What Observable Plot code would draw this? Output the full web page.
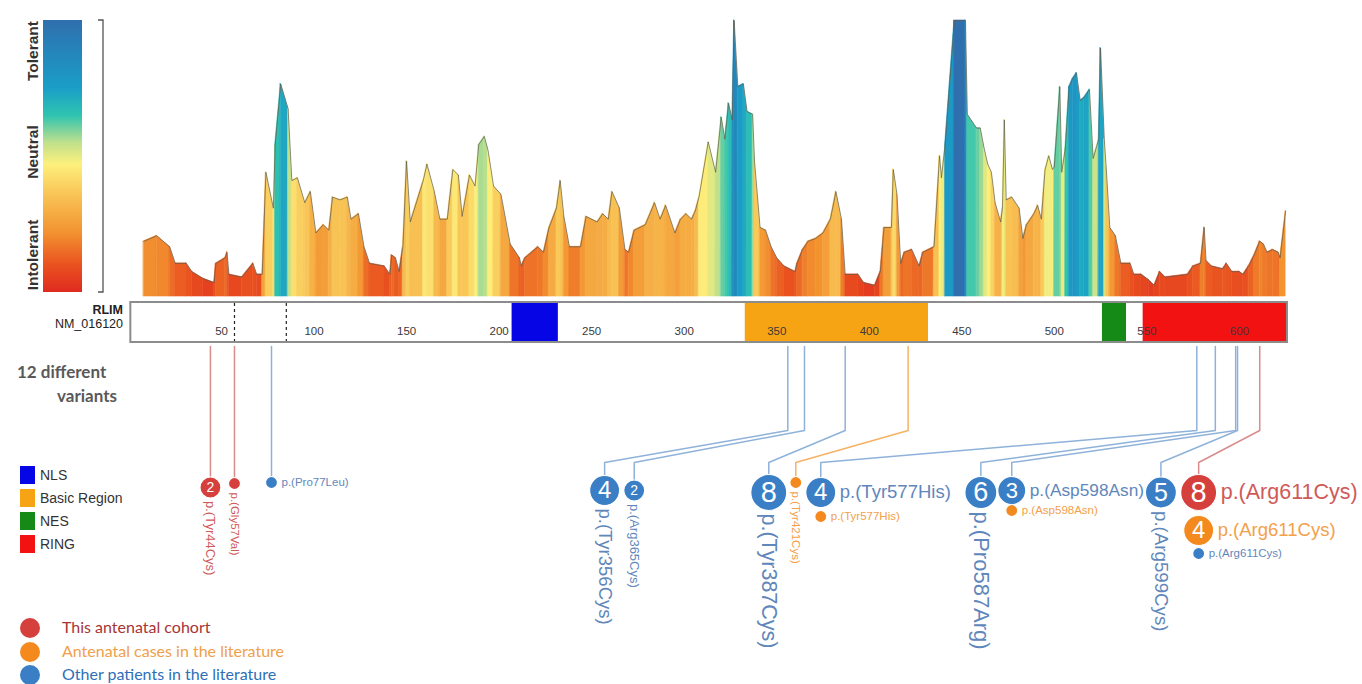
<!DOCTYPE html>
<html><head><meta charset="utf-8">
<script src="https://cdn.jsdelivr.net/npm/d3@7"></script>
<script src="https://cdn.jsdelivr.net/npm/@observablehq/plot@0.6"></script>
<style>
body{margin:0;background:#fff;}
#root{position:relative;width:1362px;height:684px;overflow:hidden;font-family:"Liberation Sans",Arial,sans-serif;}
.abs{position:absolute;}
</style></head><body><div id="root"></div>
<script>
// ---------- DATA ----------
// tolerance landscape: residue position and tolerance score (0 = intolerant, 1 = tolerant)
const profPos = [8,15,22,25,31,34,40,46,47,52,53,54,61,67,69,72,74,78,79,82,86,88,91,95,98,101,105,108,110,114,118,120,124,127,130,138,141,142,144,146,148,150,152,159,161,165,168,172,175,178,180,184,187,189,192,194,197,201,206,211,212,214,221,224,227,231,233,235,238,244,247,253,256,259,261,265,268,270,273,279,284,287,290,295,298,301,304,306,308,313,317,320,322,324,326,327,329,332,334,337,338,341,344,347,350,354,360,361,364,367,371,375,379,382,385,387,394,397,403,406,408,412,413,415,417,419,423,427,429,435,438,439,441,446,452,453,458,460,462,464,466,468,471,472,473,474,477,481,483,485,489,491,493,495,497,499,500,503,504,506,508,510,512,514,516,519,521,524,525,527,528,530,533,536,541,543,547,551,554,557,560,572,575,579,581,582,585,591,593,596,600,602,605,608,611,613,615,618,621,622,625];
const profScore = [0.20,0.22,0.18,0.12,0.12,0.09,0.065,0.05,0.12,0.14,0.16,0.08,0.07,0.12,0.08,0.08,0.45,0.32,0.55,0.77,0.68,0.42,0.43,0.34,0.38,0.23,0.26,0.24,0.36,0.35,0.36,0.28,0.30,0.18,0.12,0.11,0.08,0.15,0.14,0.09,0.18,0.49,0.27,0.42,0.48,0.38,0.28,0.28,0.46,0.44,0.29,0.44,0.40,0.55,0.58,0.53,0.40,0.37,0.19,0.14,0.11,0.14,0.18,0.16,0.25,0.32,0.42,0.29,0.18,0.18,0.29,0.27,0.30,0.28,0.38,0.32,0.17,0.16,0.24,0.26,0.34,0.28,0.33,0.23,0.28,0.30,0.28,0.31,0.36,0.56,0.45,0.65,0.57,0.70,0.64,1.0,0.76,0.77,0.67,0.66,0.49,0.25,0.24,0.18,0.14,0.11,0.09,0.12,0.17,0.20,0.21,0.23,0.28,0.38,0.28,0.08,0.08,0.05,0.04,0.09,0.25,0.25,0.46,0.37,0.12,0.16,0.17,0.11,0.16,0.18,0.51,0.43,0.55,1.0,1.0,0.66,0.61,0.61,0.54,0.48,0.45,0.34,0.27,0.32,0.64,0.35,0.36,0.32,0.21,0.26,0.30,0.33,0.28,0.46,0.51,0.46,0.47,0.76,0.45,0.54,0.76,0.79,0.81,0.71,0.72,0.75,0.50,0.57,0.90,0.57,0.47,0.25,0.22,0.12,0.12,0.08,0.08,0.06,0.04,0.09,0.07,0.08,0.11,0.12,0.25,0.13,0.11,0.10,0.12,0.09,0.09,0.08,0.11,0.15,0.20,0.19,0.16,0.17,0.16,0.14,0.31];

// protein domains (RLIM, NM_016120)
const domainName  = ["NLS","Basic Region","NES","RING"];
const domainStart = [207,333,526,548];
const domainEnd   = [232,432,539,626];
const proteinLength = 626;
const tickValues = [50,100,150,200,250,300,350,400,450,500,550,600];
const dashedAt = [57,85];

// variants
const variantLabel   = ["p.(Tyr44Cys)","p.(Gly57Val)","p.(Pro77Leu)","p.(Tyr356Cys)","p.(Arg365Cys)","p.(Tyr387Cys)","p.(Tyr421Cys)","p.(Tyr577His)","p.(Tyr577His)","p.(Pro587Arg)","p.(Asp598Asn)","p.(Asp598Asn)","p.(Arg599Cys)","p.(Arg611Cys)","p.(Arg611Cys)","p.(Arg611Cys)"];
const variantResidue = [44,57,77,356,365,387,421,577,577,587,598,598,599,611,611,611];
const variantSource  = ["cohort","cohort","other","other","other","other","antenatal","other","antenatal","other","other","antenatal","other","cohort","antenatal","other"];
const variantPatients= [2,1,1,4,2,8,1,4,1,6,3,1,5,8,4,1];

// ---------- LAYOUT / STYLE ----------
const headResidue = [44,57,77,257,273,345.7,360.3,373.8,373.8,460.3,477,477,557.6,578,578,578];
const headY       = [487,483,482,490,490,492,482,492,516,492,490,510,492,492,530,553];
const labelDir    = ["down","down","right","down","down","down","down","right","right","down","right","right","down","right","right","right"];
const hasStem     = [true,true,true,true,true,true,true,true,false,true,true,false,true,true,false,false];
const stemTopY = 346, elbowY = 430, bendY = 462;

const colorStopAt  = [0,0.1,0.22,0.35,0.47,0.55,0.65,0.75,1];
const colorStopHex = ["#df2a20","#e9521f","#f29330","#f8c153","#fdf07c","#bfe08c","#2ec4b0","#1a9ec8","#2f6fae"];
const domainColor = ["#0505e6","#f7a414","#168a16","#f21212"];
const dotColor   = {cohort:"#d5403d", antenatal:"#f48a1e", other:"#3a7fc6"};
const stemColor  = {cohort:"#d98c8c", antenatal:"#f5b265", other:"#8fb2da"};
const labelColor = {cohort:"#d05a58", antenatal:"#f3a04c", other:"#5f87bb"};
const rDomain = [1,2,3,4,6,8], rRange = [6,10.5,14,15,16,18];
const rOf = d3.scaleLinear().domain(rDomain).range(rRange);
const labSize = d3.scaleLinear().domain([1,2,3,4,5,6,8]).range([11.5,13,17.3,18.5,18.7,22,21.5]);
const numSize = d3.scaleLinear().domain([2,3,4,5,6,8]).range([14,22,24,25,27,29]);

const W = 1362, mL = 128.5, mR = 75;
const xDomain = [0, proteinLength];
const pxPerRes = (W - mL - mR) / proteinLength;
const font = "'Liberation Sans', Arial, sans-serif";
const root = document.getElementById("root");
function place(el, left, top){ const d=document.createElement("div"); d.className="abs"; d.style.left=left+"px"; d.style.top=top+"px"; d.appendChild(el); root.appendChild(d); return d; }

// ---------- LANDSCAPE ----------
const profile = profPos.map((p,i)=>({pos:p, score:profScore[i]}));
const segs = [];
for (let i=0;i<profile.length-1;i++){
  const a=profile[i], b=profile[i+1], c=(a.score+b.score)/2;
  segs.push({seg:i,pos:a.pos,score:a.score,c},{seg:i,pos:b.pos,score:b.score,c});
}
const landscape = Plot.plot({
  width: W, height: 300, marginLeft: mL, marginRight: mR, marginTop: 20, marginBottom: 4,
  style:{fontFamily:font, background:"transparent"},
  x:{domain:xDomain, axis:null},
  y:{domain:[0,1], axis:null},
  color:{type:"linear", domain:colorStopAt, range:colorStopHex, interpolate:"rgb"},
  marks:[
    Plot.areaY(segs, {x:"pos", y1:0, y2:"score", z:"seg", fill:"c", stroke:"c", strokeWidth:0.6, curve:"linear"}),
    Plot.line(profile, {x:"pos", y:"score", stroke:"#5d5d4c", strokeWidth:1, strokeOpacity:0.7})
  ]
});
place(landscape, 0, 0);

// ---------- DOMAIN BAR ----------
const domains = domainName.map((n,i)=>({name:n, start:domainStart[i], end:domainEnd[i], color:domainColor[i]}));
const whole = [{a:1, b:proteinLength}];
const bar = Plot.plot({
  width: W, height: 50, marginLeft: mL, marginRight: mR, marginTop: 5, marginBottom: 5,
  style:{fontFamily:font, background:"transparent"},
  x:{domain:xDomain, axis:null},
  y:{domain:[0,1], axis:null},
  color:{type:"identity"},
  marks:[
    Plot.rect(whole, {x1:"a", x2:"b", y1:0, y2:1, fill:"white"}),
    Plot.rect(domains, {x1:"start", x2:"end", y1:0, y2:1, fill:"color"}),
    Plot.ruleX(dashedAt, {x:d=>d, y1:0, y2:1, stroke:"#222", strokeWidth:1.2, strokeDasharray:"3,3"}),
    Plot.text(tickValues, {x:d=>d, y:0.28, text:d=>String(d), fontSize:11.5, fill:"#3a3a3a"}),
    Plot.rect(whole, {x1:"a", x2:"b", y1:0, y2:1, fill:"none", stroke:"#8c8c8c", strokeWidth:2})
  ]
});
place(bar, 0, 297);

// ---------- LOLLIPOPS ----------
const heads = variantLabel.map((lab,i)=>({id:i, label:lab, pos:variantResidue[i], src:variantSource[i], n:variantPatients[i], hx:headResidue[i], hy:headY[i], dir:labelDir[i], stem:hasStem[i]}));
const stemPts = heads.filter(h=>h.stem).flatMap(h=>[
  {id:h.id, src:h.src, x:h.pos, y:stemTopY},
  {id:h.id, src:h.src, x:h.pos, y:elbowY},
  {id:h.id, src:h.src, x:h.hx, y:bendY},
  {id:h.id, src:h.src, x:h.hx, y:h.hy}
]);
const lolli = Plot.plot({
  width: W, height: 342, marginLeft: mL, marginRight: mR, marginTop: 0, marginBottom: 0,
  style:{fontFamily:font, background:"transparent", overflow:"visible"},
  x:{domain:xDomain, axis:null},
  y:{domain:[342,684], range:[0,342], axis:null},
  color:{type:"identity"},
  r:{type:"linear", domain:rDomain, range:rRange},
  marks:[
    Plot.line(stemPts, {x:"x", y:"y", z:"id", stroke:d=>stemColor[d.src], strokeWidth:1.5}),
    Plot.dot(heads, {x:"hx", y:"hy", r:"n", fill:d=>dotColor[d.src], stroke:"white", strokeWidth:1.2}),
    Plot.text(heads.filter(h=>h.n>1), {x:"hx", y:"hy", text:d=>String(d.n), fill:"white", fontSize:d=>numSize(d.n)}),
    Plot.text(heads.filter(h=>h.dir==="down"), {x:"hx", y:d=>d.hy + rOf(d.n) + 3, text:"label", rotate:90, textAnchor:"start", fill:d=>labelColor[d.src], fontSize:d=>labSize(d.n)}),
    Plot.text(heads.filter(h=>h.dir==="right"), {x:d=>d.hx + (rOf(d.n)+4)/pxPerRes, y:"hy", text:"label", textAnchor:"start", fill:d=>labelColor[d.src], fontSize:d=>labSize(d.n)})
  ]
});
place(lolli, 0, 342);

// ---------- LEGENDS ----------
const NS = "http://www.w3.org/2000/svg";
const leg = document.createElementNS(NS,"svg");
leg.setAttribute("width",140); leg.setAttribute("height",300);
let stops = colorStopAt.map((t,i)=>`<stop offset="${t}" stop-color="${colorStopHex[i]}"/>`).join("");
leg.innerHTML = `<defs><linearGradient id="tol" x1="0" y1="1" x2="0" y2="0">${stops}</linearGradient></defs>
<rect x="43" y="20" width="39" height="272" fill="url(#tol)"/>
<path d="M98,20 H103 V292 H98" fill="none" stroke="#555" stroke-width="1.3"/>
<g font-family="${font.replace(/'/g,'')}" font-weight="bold" font-size="15.5" fill="#333" text-anchor="middle">
<text transform="translate(38,51) rotate(-90)">Tolerant</text>
<text transform="translate(38,152) rotate(-90)">Neutral</text>
<text transform="translate(38,255) rotate(-90)">Intolerant</text></g>`;
place(leg, 0, 0);

function htmlText(txt, left, top, css){ const d=document.createElement("div"); d.className="abs"; d.textContent=txt; d.style.left=left+"px"; d.style.top=top+"px"; d.style.whiteSpace="nowrap"; Object.assign(d.style, css||{}); root.appendChild(d); return d; }

htmlText("RLIM", 0, 303, {width:"123px", textAlign:"right", fontWeight:"bold", fontSize:"12.5px", color:"#222"});
htmlText("NM_016120", 0, 317, {width:"123px", textAlign:"right", fontSize:"12.5px", color:"#222"});

htmlText("12 different", 17, 361, {fontFamily:"Lato", fontWeight:"bold", fontSize:"17px", color:"#595959"});
htmlText("variants", 0, 385, {width:"117px", textAlign:"right", fontFamily:"Lato", fontWeight:"bold", fontSize:"17px", color:"#595959"});

domainName.forEach((n,i)=>{
  const y = 466 + i*23;
  const sq = document.createElement("div"); sq.className="abs";
  Object.assign(sq.style,{left:"20px", top:y+"px", width:"15px", height:"18px", background:domainColor[i]});
  root.appendChild(sq);
  htmlText(n, 40, y, {fontSize:"14px", lineHeight:"18px", color:"#333"});
});

const srcOrder = ["cohort","antenatal","other"];
const srcText = ["This antenatal cohort","Antenatal cases in the literature","Other patients in the literature"];
const srcTextColor = ["#a83535","#f0a04b","#2e6fb7"];
srcOrder.forEach((s,i)=>{
  const cy = 628 + i*23.5;
  const c = document.createElement("div"); c.className="abs";
  Object.assign(c.style,{left:"20px", top:(cy-10)+"px", width:"20px", height:"20px", borderRadius:"50%", background:dotColor[s]});
  root.appendChild(c);
  htmlText(srcText[i], 62, cy-11, {fontFamily:"Lato", fontSize:"16px", lineHeight:"20px", color:srcTextColor[i]});
});
</script></body></html>
